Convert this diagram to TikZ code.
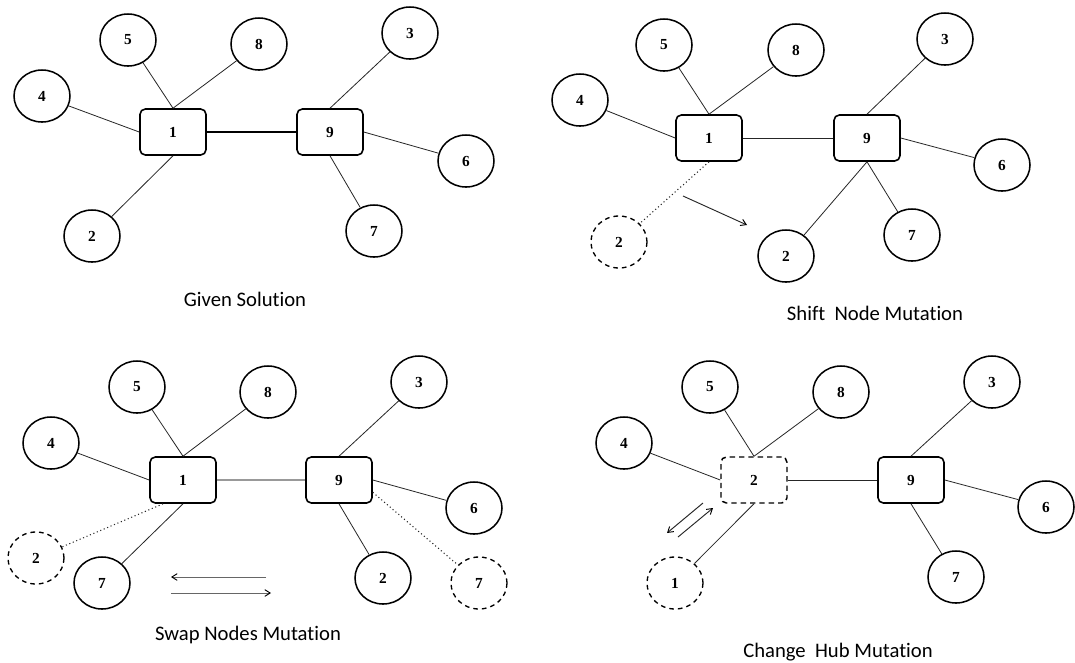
\documentclass[tikz,border=0pt]{standalone}
\usepackage{fontspec}
\setmainfont{Liberation Serif}
\newfontfamily\capfont[Ligatures=NoCommon]{Carlito}
\usetikzlibrary{shapes.geometric,arrows.meta}

\tikzset{
  site/.style={ellipse, draw, line width=1.15pt, minimum width=42pt, minimum height=39pt,
    inner sep=0pt, font=\fontsize{11.5}{13}\selectfont\bfseries},
  ghost/.style={site, line width=1pt, dash pattern=on 3.5pt off 3pt},
  hub/.style={rectangle, rounded corners=4pt, draw, line width=1.2pt,
    minimum width=49.5pt, minimum height=34.5pt, inner sep=0pt,
    font=\fontsize{11.5}{13}\selectfont\bfseries},
  ghosthub/.style={hub, line width=1.1pt, dash pattern=on 4pt off 3pt},
  link/.style={draw=black!85, line width=0.6pt},
  trunk/.style={draw=black, line width=0.85pt},
  faint/.style={draw=black!40, line width=1pt},
  trace/.style={draw=black!85, line width=0.8pt, dotted},
  move/.style={draw=black!60, line width=0.7pt,
    -{Straight Barb[length=4pt,width=5pt,black]}},
  caption/.style={font=\capfont\fontsize{15.5}{18}\selectfont, inner sep=0pt},
}

\begin{document}
\begin{tikzpicture}[x=0.75pt, y=-0.75pt]
\useasboundingbox (0,0) rectangle (1075,662);
\fill[white] (0,0) rectangle (1075,662);

% ---- Given solution ----
\node[site] (A5) at (128,40) {5};
\node[site] (A8) at (259,44) {8};
\node[site] (A4) at (42,96) {4};
\node[hub]  (A1) at (173,132) {1};
\node[hub]  (A9) at (330,132) {9};
\node[site] (A3) at (410,33) {3};
\node[site] (A6) at (466,161) {6};
\node[site] (A7) at (374,231) {7};
\node[site] (A2) at (92,236) {2};
\node[caption] (Acap) at (245,299) {Given Solution};

\draw[link] (A5) -- (A1.north);
\draw[link] (A8) -- (A1.north);
\draw[link] (A4) -- (A1.west);
\draw[link] (A2) -- (A1.south);
\draw[trunk] (A1) -- (A9);
\draw[link] (A3) -- (A9.north);
\draw[link] (A6) -- (A9.east);
\draw[link] (A7) -- (A9.south);

% ---- Shift node mutation ----
\node[site]  (B5) at (664,45) {5};
\node[site]  (B8) at (796,50) {8};
\node[site]  (B4) at (580,100) {4};
\node[hub]   (B1) at (709,138) {1};
\node[hub]   (B9) at (867,138) {9};
\node[site]  (B3) at (945,39) {3};
\node[site]  (B6) at (1002,165) {6};
\node[site]  (B7) at (912,235) {7};
\node[ghost] (B2old) at (619,242) {2};
\node[site]  (B2) at (786,256) {2};
\node[caption] (Bcap) at (875,313) {Shift~ Node Mutation};

\draw[link] (B5) -- (B1.north);
\draw[link] (B8) -- (B1.north);
\draw[link] (B4) -- (B1.west);
\draw[link] (B1) -- (B9);
\draw[link] (B3) -- (B9.north);
\draw[link] (B6) -- (B9.east);
\draw[link] (B7) -- (B9.south);
\draw[link] (B2) -- (B9.south);
\draw[trace] (B1.south) -- (B2old);
\coordinate (Bs) at (683,196);
\coordinate (Be) at (747,225);
\draw[move, draw=black!85] (Bs) -- (Be);

% ---- Swap nodes mutation ----
\node[site]  (C5) at (137,387) {5};
\node[site]  (C8) at (268,392) {8};
\node[site]  (C4) at (51,443) {4};
\node[hub]   (C1) at (183,480) {1};
\node[hub]   (C9) at (339,480) {9};
\node[site]  (C3) at (419,382) {3};
\node[site]  (C6) at (474,508) {6};
\node[site]  (C2) at (383,578) {2};
\node[ghost] (C7old) at (479,583) {7};
\node[ghost] (C2old) at (36,558) {2};
\node[site]  (C7) at (102,583) {7};
\node[caption] (Ccap) at (248,635) {Swap Nodes Mutation};

\draw[link] (C5) -- (C1.north);
\draw[link] (C8) -- (C1.north);
\draw[link] (C4) -- (C1.west);
\draw[faint] (C1) -- (C9);
\draw[link] (C3) -- (C9.north);
\draw[link] (C6) -- (C9.east);
\draw[link] (C2) -- (C9.south);
\draw[trace] (C9.340) -- (C7old);
\draw[link] (C7) -- (C1.south);
\draw[trace] (C1.230) -- (C2old);
\coordinate (Cl1) at (266,577);
\coordinate (Cl2) at (171,577);
\coordinate (Cr1) at (171,593);
\coordinate (Cr2) at (271,593);
\draw[move] (Cl1) -- (Cl2);
\draw[move] (Cr1) -- (Cr2);

% ---- Change hub mutation ----
\node[site]     (D5) at (710,387) {5};
\node[site]     (D8) at (841,392) {8};
\node[site]     (D4) at (624,443) {4};
\node[ghosthub] (D2) at (754,480) {2};
\node[hub]      (D9) at (911,480) {9};
\node[site]     (D3) at (992,382) {3};
\node[site]     (D6) at (1046,507) {6};
\node[site]     (D7) at (956,577) {7};
\node[ghost]    (D1old) at (675,583) {1};
\node[caption]  (Dcap) at (838,652) {Change~ Hub Mutation};

\draw[link] (D5) -- (D2.north);
\draw[link] (D8) -- (D2.north);
\draw[link] (D4) -- (D2.west);
\draw[link] (D2) -- (D9);
\draw[link] (D3) -- (D9.north);
\draw[link] (D6) -- (D9.east);
\draw[link] (D7) -- (D9.south);
\draw[link] (D2.south) -- (D1old);
\coordinate (Da1) at (703,503);
\coordinate (Da2) at (667,533);
\coordinate (Db1) at (678,537);
\coordinate (Db2) at (713,508);
\draw[move, draw=black!85] (Da1) -- (Da2);
\draw[move, draw=black!85] (Db1) -- (Db2);
\end{tikzpicture}
\end{document}
